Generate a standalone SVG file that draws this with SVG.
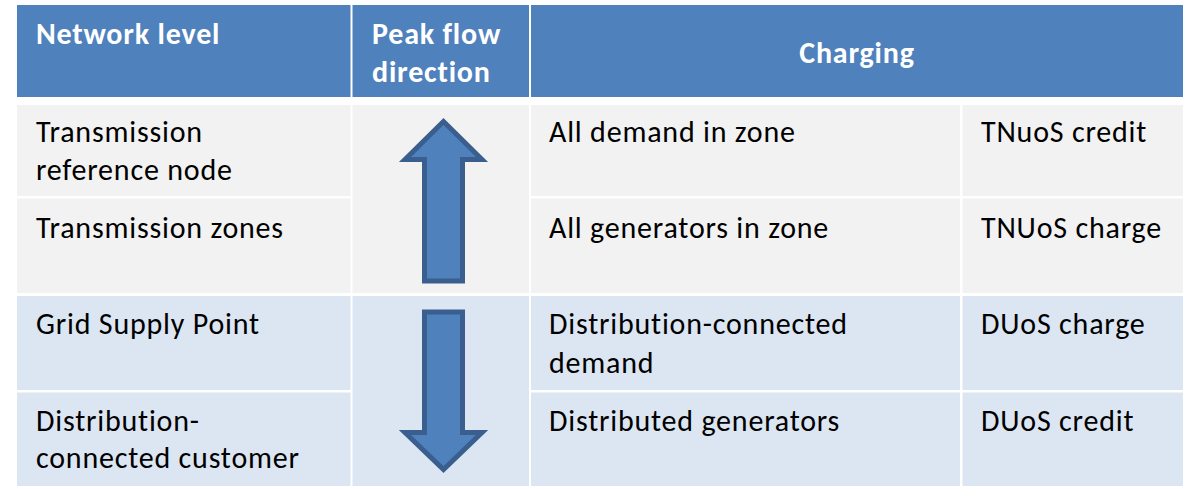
<svg xmlns="http://www.w3.org/2000/svg" width="1184" height="488" viewBox="0 0 1184 488">
<style>
.hdr{fill:#4F81BD}
.gray{fill:#F2F2F2}
.blue{fill:#DCE6F2}
.ht{font-family:Carlito,Lato,"Liberation Sans",sans-serif;font-size:30px;letter-spacing:0.8px;font-weight:bold;fill:#FFFFFF}
.bt{font-family:Carlito,Lato,"Liberation Sans",sans-serif;font-size:30px;letter-spacing:0.8px;fill:#000000}
.arr{fill:#4F81BD;stroke:#3A5F8E;stroke-width:5;stroke-linejoin:miter}
</style>
<rect width="1184" height="488" fill="#FFFFFF"/>
<g id="hdr-network-level">
<rect class="hdr" x="17" y="5" width="333.5" height="92"/>
<text class="ht" x="36" y="44">Network level</text>
</g>
<g id="hdr-peak-flow">
<rect class="hdr" x="352.5" y="5" width="176.5" height="92"/>
<text class="ht" x="372" y="44">Peak flow</text>
<text class="ht" x="372" y="82">direction</text>
</g>
<g id="hdr-charging">
<rect class="hdr" x="531" y="5" width="652" height="92"/>
<text class="ht" x="857" y="63" text-anchor="middle">Charging</text>
</g>
<g id="row1-level">
<rect class="gray" x="17" y="105" width="333.5" height="91"/>
<text class="bt" x="36" y="142">Transmission</text>
<text class="bt" x="36" y="180">reference node</text>
</g>
<g id="row2-level">
<rect class="gray" x="17" y="198.5" width="333.5" height="94.5"/>
<text class="bt" x="36" y="238">Transmission zones</text>
</g>
<g id="row3-level">
<rect class="blue" x="17" y="296" width="333.5" height="94"/>
<text class="bt" x="36" y="334">Grid Supply Point</text>
</g>
<g id="row4-level">
<rect class="blue" x="17" y="392.5" width="333.5" height="93.5"/>
<text class="bt" x="36" y="430.5">Distribution-</text>
<text class="bt" x="36" y="468">connected customer</text>
</g>
<g id="flow-up-cell">
<rect class="gray" x="352.5" y="105" width="176.5" height="188"/>
</g>
<g id="flow-down-cell">
<rect class="blue" x="352.5" y="296" width="176.5" height="190"/>
</g>
<g id="row1-charging">
<rect class="gray" x="531" y="105" width="429" height="91"/>
<text class="bt" x="549" y="142">All demand in zone</text>
</g>
<g id="row1-charge">
<rect class="gray" x="962.5" y="105" width="220.5" height="91"/>
<text class="bt" x="981" y="142">TNuoS credit</text>
</g>
<g id="row2-charging">
<rect class="gray" x="531" y="198.5" width="429" height="94.5"/>
<text class="bt" x="549" y="238">All generators in zone</text>
</g>
<g id="row2-charge">
<rect class="gray" x="962.5" y="198.5" width="220.5" height="94.5"/>
<text class="bt" x="981" y="238">TNUoS charge</text>
</g>
<g id="row3-charging">
<rect class="blue" x="531" y="296" width="429" height="94"/>
<text class="bt" x="549" y="334">Distribution-connected</text>
<text class="bt" x="549" y="372.5">demand</text>
</g>
<g id="row3-charge">
<rect class="blue" x="962.5" y="296" width="220.5" height="94"/>
<text class="bt" x="981" y="334">DUoS charge</text>
</g>
<g id="row4-charging">
<rect class="blue" x="531" y="392.5" width="429" height="93.5"/>
<text class="bt" x="549" y="430.5">Distributed generators</text>
</g>
<g id="row4-charge">
<rect class="blue" x="962.5" y="392.5" width="220.5" height="93.5"/>
<text class="bt" x="981" y="430.5">DUoS credit</text>
</g>
<g id="connectors">
<path id="arrow-up" class="arr" d="M443.5,121.5 L482,159.5 L462.5,159.5 L462.5,281 L424.5,281 L424.5,159.5 L405,159.5 Z"/>
<path id="arrow-down" class="arr" d="M424.5,312 L462.5,312 L462.5,432.5 L482,432.5 L443.5,469.5 L405,432.5 L424.5,432.5 Z"/>
</g>
</svg>
